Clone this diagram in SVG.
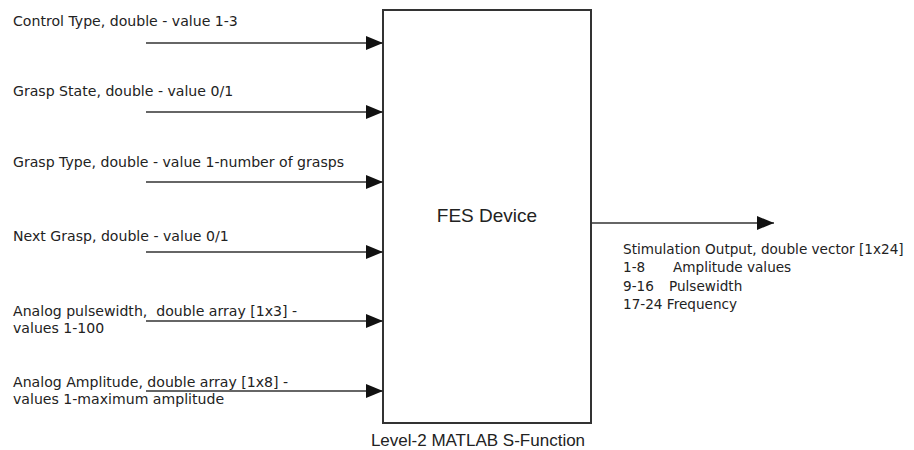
<svg xmlns="http://www.w3.org/2000/svg" width="914" height="450" viewBox="0 0 914 450">
  <style>
    .lbl { font-family: "DejaVu Sans", Tahoma, sans-serif; font-size: 14.1px; fill: #222; white-space: pre; }
    .out { font-family: "DejaVu Sans", Tahoma, sans-serif; font-size: 13.6px; fill: #222; white-space: pre; }
    .blk { font-family: "Liberation Sans", Arial, sans-serif; fill: #222; }
    .wire { stroke: #333; stroke-width: 1.3; fill: none; marker-end: url(#head); }
  </style>
  <defs>
    <marker id="head" viewBox="0 0 17 14" refX="17" refY="7" markerWidth="17" markerHeight="14" markerUnits="userSpaceOnUse" orient="auto">
      <path d="M0,0 L17,7 L0,14 Z" fill="#111"/>
    </marker>
  </defs>
  <rect width="914" height="450" fill="#ffffff"/>

  <!-- S-Function block -->
  <g id="fes-device">
    <rect x="383" y="10" width="208" height="413" fill="#ffffff" stroke="#333" stroke-width="2"/>
    <text class="blk" x="487" y="222" font-size="19" text-anchor="middle">FES Device</text>
    <text class="blk" x="478" y="446" font-size="17" text-anchor="middle">Level-2 MATLAB S-Function</text>
  </g>

  <!-- input port labels -->
  <g id="in-control-type">
    <text class="lbl" x="13" y="26">Control Type, double - value 1-3</text>
  </g>
  <g id="in-grasp-state">
    <text class="lbl" x="13" y="96">Grasp State, double - value 0/1</text>
  </g>
  <g id="in-grasp-type">
    <text class="lbl" x="13" y="167">Grasp Type, double - value 1-number of grasps</text>
  </g>
  <g id="in-next-grasp">
    <text class="lbl" x="13" y="241">Next Grasp, double - value 0/1</text>
  </g>
  <g id="in-analog-pw">
    <text class="lbl" x="13" y="316" xml:space="preserve">Analog pulsewidth,  double array [1x3] -</text>
    <text class="lbl" x="13" y="333">values 1-100</text>
  </g>
  <g id="in-analog-amp">
    <text class="lbl" x="13" y="387">Analog Amplitude, double array [1x8] -</text>
    <text class="lbl" x="13" y="404">values 1-maximum amplitude</text>
  </g>

  <!-- output label -->
  <g id="out-stimulation">
    <text class="out" x="623" y="254">Stimulation Output, double vector [1x24]</text>
    <text class="out" x="623" y="272">1-8</text>
    <text class="out" x="673" y="272">Amplitude values</text>
    <text class="out" x="623" y="291">9-16</text>
    <text class="out" x="669" y="291">Pulsewidth</text>
    <text class="out" x="623" y="309">17-24 Frequency</text>
  </g>

  <!-- signal lines -->
  <g id="connectors">
    <line class="wire" x1="146" y1="43" x2="383" y2="43"/>
    <line class="wire" x1="146" y1="112" x2="383" y2="112"/>
    <line class="wire" x1="146" y1="182" x2="383" y2="182"/>
    <line class="wire" x1="146" y1="252" x2="383" y2="252"/>
    <line class="wire" x1="146" y1="321" x2="383" y2="321"/>
    <line class="wire" x1="146" y1="391" x2="383" y2="391"/>
    <line class="wire" x1="591" y1="223" x2="774" y2="223"/>
  </g>
</svg>
